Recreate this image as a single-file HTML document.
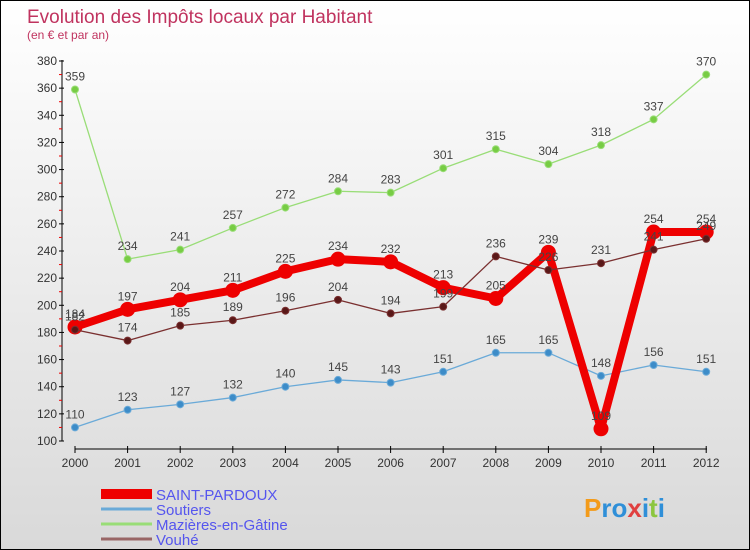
<!DOCTYPE html>
<html><head><meta charset="utf-8"><style>
body{margin:0}
#wrap{position:relative;width:748px;height:548px;border:1px solid #000;background:linear-gradient(#fff,#d9d9d9);font-family:"Liberation Sans",sans-serif;overflow:hidden}
svg text{font-family:"Liberation Sans",sans-serif}
</style></head><body>
<div id="wrap">
<svg id="c" width="748" height="548">
<text x="26" y="22" font-size="19" fill="#c0335f">Evolution des Impôts locaux par Habitant</text>
<text x="26" y="38" font-size="12" fill="#c0335f">(en € et par an)</text>
</svg>
</div>
<script>
const years=[2000,2001,2002,2003,2004,2005,2006,2007,2008,2009,2010,2011,2012];
const saint=[184,197,204,211,225,234,232,213,205,239,109,254,254];
const soutiers=[110,123,127,132,140,145,143,151,165,165,148,156,151];
const maz=[359,234,241,257,272,284,283,301,315,304,318,337,370];
const vouhe=[182,174,185,189,196,204,194,199,236,226,231,241,249];
const yTicks=[100,120,140,160,180,200,220,240,260,280,300,320,340,360,380];
const legendNames=["SAINT-PARDOUX","Soutiers","Mazières-en-Gâtine","Vouhé"];
const NS="http://www.w3.org/2000/svg";
const svg=document.getElementById('c');
const X=i=>74+i*52.6;
const Y=v=>440-(v-100)*380/280;
function el(t,a,p){const e=document.createElementNS(NS,t);for(const k in a)e.setAttribute(k,a[k]);(p||svg).appendChild(e);return e;}
// axes
const ax=el('line',{x1:61,y1:59,x2:61,y2:440,stroke:'#000','stroke-width':1});


const ax2=el('line',{x1:74,y1:448,x2:706,y2:448,stroke:'#000','stroke-width':1});


yTicks.forEach((v,i)=>{
 el('line',{x1:58,y1:Y(v),x2:63,y2:Y(v),stroke:'#000'});
 if(i<yTicks.length-1) el('line',{x1:58,y1:Y(v+10),x2:61,y2:Y(v+10),stroke:'#e00'});
 const t=el('text',{x:56,y:Y(v)+4,'font-size':12,'text-anchor':'end',fill:'#333'});t.textContent=v;
 
 
});
years.forEach((y,i)=>{
 el('line',{x1:X(i),y1:445,x2:X(i),y2:452,stroke:'#000'});
 const t=el('text',{x:X(i),y:466,'font-size':12,'text-anchor':'middle',fill:'#333'});t.textContent=y;
 
 
});
function series(d,color,w,r,name,fill){
 const g=el('g',{});
 
 
 el('polyline',{points:d.map((v,i)=>X(i)+','+Y(v)).join(' '),fill:'none',stroke:color,'stroke-width':w,'stroke-linejoin':'round'},g);
 d.forEach((v,i)=>{
  const c=el('circle',{cx:X(i),cy:Y(v),r:r,fill:fill,stroke:color,'stroke-width':1},g);
  
  
  const t=el('text',{x:X(i),y:Y(v)-9,'font-size':12,'text-anchor':'middle',fill:'#444'},g);t.textContent=v;
  
  
 });
}
series(maz,'#99dd77',1.3,3.5,'series-mazieres','#77cc44');
series(soutiers,'#6aaad8',1.3,3.5,'series-soutiers','#3d8cc8');
series(saint,'#ee0000',8,7,'series-saint-pardoux','#ee0000');
series(vouhe,'#7a3030',1.3,3.5,'series-vouhe','#5a1818');
const lc=['#ee0000','#6aaad8','#99dd77','#996666'],lw=[10,3,3,3];
legendNames.forEach((n,i)=>{
 const y=493+i*15;
 const l=el('line',{x1:100,y1:y,x2:151,y2:y,stroke:lc[i],'stroke-width':lw[i]});
 
 
 const t=el('text',{x:155,y:y+6,'font-size':15,fill:'#5555ee'});t.textContent=n;
 
 
});
const lg=el('text',{x:583,y:516,'font-size':26,'font-weight':'bold',fill:'#2f8fd8'});
lg.innerHTML='<tspan fill="#f39b1a">P</tspan>ro<tspan fill="#e04040">x</tspan>i<tspan fill="#8cc63f">t</tspan>i';


</script>
</body></html>
